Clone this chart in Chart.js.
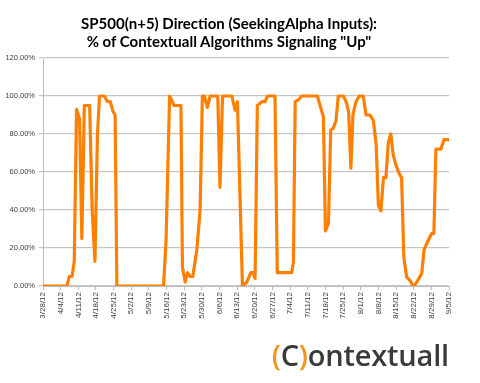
<!DOCTYPE html>
<html>
<head>
<meta charset="utf-8">
<script src="https://cdn.jsdelivr.net/npm/chart.js@4/dist/chart.umd.min.js"></script>
<style>
  body { margin: 0; background: #fff; }
  #wrap { position: relative; width: 480px; height: 383px; }
  #title {
    position: absolute; left: 0; top: 14px; width: 458px; text-align: center;
    font: bold 15px Lato, "Open Sans", sans-serif; line-height: 18px; color: #000;
  }
  #logo {
    position: absolute; right: 31px; top: 335px;
    font: 600 29px "Open Sans", sans-serif; color: #3a3a3a; letter-spacing: -0.2px;
  }
  #logo span { color: #f7941d; }
</style>
</head>
<body>
<div id="wrap">
  <canvas id="myChart" width="480" height="383"></canvas>
  <div id="title">SP500(n+5) Direction (SeekingAlpha Inputs):<br>% of Contextuall Algorithms Signaling "Up"</div>
  <div id="logo"><span>(</span>C<span>)</span>ontextuall</div>
</div>
<script>
//weekly tick labels on the x axis
const weekLabels = ["3/28/12", "4/4/12", "4/11/12", "4/18/12", "4/25/12", "5/2/12", "5/9/12", "5/16/12",
  "5/23/12", "5/30/12", "6/6/12", "6/13/12", "6/20/12", "6/27/12", "7/4/12", "7/11/12", "7/18/12",
  "7/25/12", "8/1/12", "8/8/12", "8/15/12", "8/22/12", "8/29/12", "9/5/12"];

//days since 3/28/12 and the % of algorithms signaling "up"
const days = [0, 9.5, 10.4, 11.5, 12.4, 13.3, 14.5, 15.4, 16.4, 18.5, 19.5, 20.6, 21.6, 22.4, 24.3,
  25.6, 26.7, 27.7, 28.6, 29.3, 47.8, 48.8, 50.2, 52, 54.7, 55.3, 56.4, 57.3, 58.4, 59.4, 61, 62.3,
  63.2, 64, 65.2, 66.3, 69.3, 70.2, 71.2, 74.9, 76.2, 77.1, 79.1, 80.8, 82.4, 83.3, 84.1, 85, 86.8,
  88.1, 89, 92, 92.9, 98.6, 99.3, 100, 101.3, 102.6, 108.8, 110.1, 111.2, 112, 113.2, 114.1, 115.1,
  116.2, 117.1, 119.1, 120.2, 121.2, 122.1, 122.9, 124.1, 125.4, 127, 128.1, 129.7, 131, 132.1, 133,
  134, 135, 136, 136.9, 137.9, 138.9, 140, 141.3, 142.2, 143.1, 144.2, 145.5, 146.8, 147.5, 150.2,
  151.1, 152.4, 154.1, 155, 155.8, 157.8, 159, 161];
const pctUp = [0, 0, 5, 5, 13, 93, 88, 25, 95, 95, 40, 13, 80, 100, 100,
  97, 97, 92, 90, 0, 0, 24, 100, 95, 95, 10, 2, 7, 5, 5, 19, 40,
  100, 100, 94, 100, 100, 52, 100, 100, 92.5, 97, 0, 2, 7, 7, 4, 95, 97,
  97, 100, 100, 7, 7, 12.6, 97, 98, 100, 100, 94, 89, 29, 33, 82, 83,
  87, 100, 100, 97, 91.6, 62, 90, 97, 100, 100, 90, 90, 87, 75, 42.5,
  39.5, 57, 57, 75, 80, 69, 63.5, 59, 57, 15, 4.7, 3, 0, 0.5, 6.5,
  19, 23, 27.6, 27.6, 72, 72, 77, 77];

const points = days.map((d, i) => ({ x: d, y: pctUp[i] }));

const data = {
  datasets: [
    {
      data: points,
      borderColor: "#ff7f00",
      borderWidth: 3.2,
      pointRadius: 0,
      borderJoinStyle: "round",
      tension: 0,
    },
  ],
};

const config = {
  type: "line",
  data,
  options: {
    responsive: false,
    animation: false,
    layout: { padding: { top: 58, right: 31, left: 0, bottom: 0 } },
    plugins: { legend: { display: false }, tooltip: { enabled: false } },
    scales: {
      x: {
        type: "linear",
        min: 0,
        max: 161,
        afterFit: (s) => { s.height = 97; },
        afterBuildTicks: (s) => { s.ticks = weekLabels.map((l, i) => ({ value: i * 7 })); },
        ticks: {
          autoSkip: false,
          minRotation: 90,
          maxRotation: 90,
          padding: 2,
          color: "#404040",
          font: { family: "Liberation Sans", size: 8 },
          callback: (v) => weekLabels[Math.round(v / 7)],
        },
        grid: { drawOnChartArea: false, tickLength: 4, color: "#bdbdbd" },
        border: { color: "#bdbdbd" },
      },
      y: {
        min: 0,
        max: 120,
        afterFit: (s) => { s.width = 43; },
        ticks: {
          stepSize: 20,
          padding: 4,
          color: "#404040",
          font: { family: "Liberation Sans", size: 7.5 },
          callback: (v) => v.toFixed(2) + "%",
        },
        grid: { color: "#c6c6c6", lineWidth: 1.2, tickLength: 4 },
        border: { color: "#bdbdbd" },
      },
    },
  },
};

var Up_Chart = new Chart(document.getElementById("myChart"), config);
</script>
</body>
</html>
